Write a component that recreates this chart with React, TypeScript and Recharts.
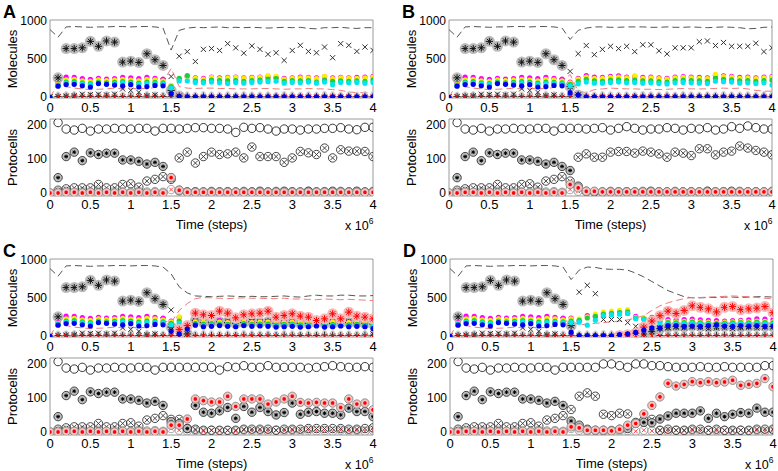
import React from 'react';
import { ComposedChart, Line, Scatter, XAxis, YAxis, ReferenceArea } from 'recharts';

type S = (number | null)[];

// ---- time axis (x 10^6 steps) ----
const TIME = [0, 0.1, 0.2, 0.3, 0.4, 0.5, 0.6, 0.7, 0.8, 0.9, 1, 1.1, 1.2, 1.3, 1.4, 1.5, 1.6, 1.7, 1.8, 1.9, 2, 2.1, 2.2, 2.3, 2.4, 2.5, 2.6, 2.7, 2.8, 2.9, 3, 3.1, 3.2, 3.3, 3.4, 3.5, 3.6, 3.7, 3.8, 3.9, 4];
const X_TICKS = [0, 0.5, 1, 1.5, 2, 2.5, 3, 3.5, 4];
const MOL_TICKS = [0, 500, 1000];
const CELL_TICKS = [0, 100, 200];

// ---- shared early part (t = 0 .. 1.4), molecules ----
const E_DASH: S = [890, 790, 925, 930, 925, 920, 925, 925, 930, 930, 925, 930, 930, 925, 910];
const E_RED: S = [0, 180, 140, 120, 110, 100, 105, 110, 120, 110, 110, 120, 110, 130, 200];
const E_STAR: S = [null, 255, 640, 640, 650, 735, 670, 740, 725, 462, 475, 458, 572, 493, 418];
const E_X: S = [5, 10, 15, 20, 40, 35, 40, 30, 40, 110, 90, 65, 20, 30, 210];
const E_MAG: S = [0, 180, 264, 260, 245, 235, 250, 240, 245, 260, 255, 245, 260, 250, 240];
const E_YEL: S = [0, 170, 230, 235, 215, 210, 230, 220, 225, 235, 225, 215, 235, 230, 215];
const E_GRN: S = [0, 160, 200, 205, 190, 180, 200, 190, 195, 205, 200, 185, 200, 195, 190];
const E_CYN: S = [0, 155, 185, 185, 175, 165, 185, 175, 180, 190, 180, 170, 180, 180, 175];
const E_BLU: S = [0, 145, 167, 170, 150, 135, 180, 170, 160, 150, 165, 135, 140, 155, 150];
const E_RSTAR: S = [null, null, null, null, null, null, null, null, null, null, null, null, null, null, null];
const RX_MOL: S = [0, 5, 3, 6, 4, 5, 3, 6, 4, 5, 3, 6, 4, 5, 3, 6, 4, 5, 3, 6, 4, 5, 3, 6, 4, 5, 3, 6, 4, 5, 3, 6, 4, 5, 3, 6, 4, 5, 3, 6, 4];
const PLUS_MOL: S = [null, 10, 12, 15, 10, 12, 10, 15, 12, 10, 12, 10, 15, 12, 10, 12, 10, 12, 10, 15, 12, 10, 12, 10, 15, 12, 10, 12, 10, 15, 12, 10, 12, 10, 15, 12, 10, 12, 10, 15, 12];

// ---- shared early part, protocells ----
const E_OPEN: S = [null, 207, 188, 185, 190, 182, 188, 188, 190, 188, 188, 190, 190, 182, 190];
const E_SC: S = [null, 45, 107, 120, 95, 118, 113, 117, 117, 97, 97, 93, 85, 90, 78];
const E_XC: S = [null, 8, 12, 15, 15, 15, 25, 15, 15, 25, 27, 17, 35, 40, 48];
const E_RC: S = [0, 0, 2, 2, 0, 2, 0, 2, 0, 2, 0, 2, 0, 2, 0];
const LOW_CELL: S = [0, 3, 5, 2, 4, 3, 5, 2, 4, 3, 2, 5, 3, 4, 2, 10, 5, 3, 4, 2, 5, 3, 4, 2, 5, 3, 4, 2, 5, 3, 4, 2, 5, 3, 4, 2, 5, 3, 4, 2, 5];

// ---- late part (t = 1.5 .. 4.0), panel A ----
const A_DASH_L: S = [620, 880, 910, 920, 915, 920, 925, 915, 920, 915, 920, 915, 910, 915, 920, 915, 920, 905, 900, 915, 915, 920, 910, 905, 915, 915];
const A_RED_L: S = [380, 140, 120, 115, 120, 120, 115, 115, 110, 110, 110, 115, 115, 110, 105, 110, 110, 115, 110, 110, 100, 90, 70, 60, 60, 65];
const A_STAR_L: S = [90, 15, null, null, null, null, null, null, null, null, null, null, null, null, null, null, null, null, null, null, null, null, null, null, null, null];
const A_X_L: S = [273, 540, 600, 470, 630, 640, 615, 705, 650, 580, 675, 630, 565, 585, 485, 615, 683, 603, 585, 660, 520, 705, 683, 603, 660, 617];
const A_MAG_L: S = [150, 240, 270, 255, 250, 265, 255, 260, 265, 255, 260, 265, 270, 265, 250, 255, 265, 260, 255, 270, 255, 260, 255, 260, 265, 275];
const A_YEL_L: S = [155, 230, 260, 250, 240, 260, 245, 255, 260, 250, 255, 260, 285, 275, 240, 250, 255, 255, 245, 275, 245, 255, 250, 250, 255, 265];
const A_GRN_L: S = [140, 250, 285, 215, 210, 225, 220, 215, 220, 210, 220, 225, 240, 245, 210, 220, 215, 220, 200, 225, 210, 215, 210, 215, 210, 230];
const A_CYN_L: S = [120, 215, 215, 195, 190, 200, 190, 180, 195, 185, 195, 200, 205, 210, 185, 195, 190, 200, 185, 200, 165, 195, 190, 195, 185, 195];
const A_BLU_L: S = [45, 10, 5, 5, 5, 5, 5, 5, 5, 5, 5, 5, 5, 5, 5, 5, 5, 5, 5, 5, 5, 5, 5, 5, 5, 5];
const A_RSTAR_L: S = [null, null, null, null, null, null, null, null, null, null, null, null, null, null, null, null, null, null, null, null, null, null, null, null, null, null];
const A_OPEN_L: S = [190, 188, 190, 192, 192, 190, 190, 188, 178, 193, 190, 192, 188, 182, 188, 188, 185, 188, 188, 190, 190, 192, 188, 186, 193, 193];
const A_SC_L: S = [45, 8, 3, 3, 3, 3, 3, 3, 3, 3, 3, 5, 3, 3, 5, 3, 3, 5, 3, 3, 5, 3, 3, 5, 3, 3];
const A_XC_L: S = [40, 103, 120, 88, 107, 120, 113, 115, 120, 103, 135, 107, 107, 107, 90, 103, 122, 118, 113, 132, 103, 127, 123, 123, 122, 107];
const A_RC_L: S = [45, 8, 2, 2, 2, 2, 2, 2, 2, 2, 2, 2, 2, 2, 2, 2, 2, 2, 2, 2, 2, 2, 2, 2, 2, 2];

// ---- panel B ----
const B_DASH_L: S = [760, 880, 910, 925, 925, 920, 920, 925, 925, 925, 920, 920, 925, 920, 920, 925, 920, 915, 920, 925, 920, 915, 900, 905, 920, 925];
const B_RED_L: S = [300, 80, 60, 100, 110, 120, 115, 110, 110, 105, 105, 100, 105, 110, 115, 110, 110, 110, 115, 120, 115, 120, 110, 90, 80, 80];
const B_STAR_L: S = [140, 30, null, null, null, null, null, null, null, null, null, null, null, null, null, null, null, null, null, null, null, null, null, null, null, null];
const B_X_L: S = [340, 573, 680, 560, 630, 670, 640, 670, 600, 690, 690, 610, 570, 650, 650, 650, 730, 740, 680, 720, 670, 670, 670, 710, 600, 650];
const B_MAG_L: S = [200, 250, 285, 265, 260, 275, 280, 265, 270, 260, 265, 255, 250, 265, 270, 265, 260, 255, 290, 280, 275, 260, 265, 255, 265, 270];
const B_YEL_L: S = [190, 240, 265, 250, 250, 260, 265, 255, 280, 250, 255, 245, 240, 255, 260, 255, 250, 245, 300, 270, 265, 250, 255, 245, 255, 260];
const B_GRN_L: S = [170, 210, 235, 215, 210, 225, 230, 220, 225, 215, 215, 205, 200, 220, 225, 220, 215, 210, 250, 235, 230, 215, 220, 210, 220, 225];
const B_CYN_L: S = [150, 176, 200, 185, 185, 195, 200, 190, 195, 185, 190, 180, 175, 190, 195, 190, 185, 180, 210, 205, 200, 185, 190, 180, 190, 160];
const B_BLU_L: S = [60, 30, 5, 5, 5, 5, 5, 5, 5, 5, 5, 5, 5, 5, 5, 5, 5, 5, 5, 5, 5, 5, 5, 5, 5, 5];
const B_RSTAR_L: S = [null, null, null, null, null, null, null, null, null, null, null, null, null, null, null, null, null, null, null, null, null, null, null, null, null, null];
const B_OPEN_L: S = [190, 190, 188, 190, 192, 185, 190, 195, 190, 185, 188, 188, 192, 190, 185, 190, 188, 192, 185, 188, 195, 190, 197, 192, 188, 188];
const B_SC_L: S = [66, 20, 5, 3, 3, 3, 3, 3, 3, 3, 5, 3, 3, 3, 3, 3, 3, 5, 3, 3, 5, 3, 3, 3, 3, 3];
const B_XC_L: S = [35, 105, 115, 105, 105, 120, 122, 122, 117, 123, 120, 115, 105, 120, 117, 110, 130, 130, 112, 120, 123, 138, 132, 125, 120, 112];
const B_RC_L: S = [25, 15, 5, 5, 3, 3, 3, 3, 3, 3, 3, 3, 3, 3, 3, 3, 3, 3, 3, 3, 3, 3, 3, 3, 3, 3];

// ---- panel C ----
const C_DASH_L: S = [820, 650, 570, 530, 525, 520, 525, 530, 525, 520, 525, 520, 520, 525, 530, 520, 515, 530, 540, 530, 530, 540, 540, 530, 530, 535];
const C_RED_L: S = [180, 340, 430, 495, 510, 505, 500, 495, 500, 505, 500, 500, 495, 495, 500, 490, 490, 485, 480, 490, 485, 480, 485, 480, 475, 470];
const C_STAR_L: S = [120, 80, 30, 210, 180, 185, 190, 180, 170, 180, 190, 180, 190, 170, 175, 180, 170, 170, 180, 170, 170, 175, 180, 175, 170, 160];
const C_X_L: S = [345, 115, 30, 225, 190, 200, 195, 200, 205, 215, 200, 190, 185, 200, 190, 205, 180, 200, 195, 185, 190, 200, 195, 190, 185, 30];
const C_MAG_L: S = [200, 250, 160, 200, 195, 200, 205, 190, 195, 200, 185, 190, 195, 180, 190, 195, 185, 190, 200, 185, 190, 195, 185, 190, 185, 180];
const C_YEL_L: S = [190, 255, 150, 190, 185, 190, 185, 180, 185, 190, 180, 185, 185, 175, 180, 185, 180, 185, 190, 180, 185, 190, 180, 185, 180, 175];
const C_GRN_L: S = [170, 200, 130, 165, 160, 165, 160, 155, 160, 165, 155, 160, 160, 150, 155, 160, 150, 155, 165, 150, 155, 160, 150, 155, 150, 145];
const C_CYN_L: S = [150, 170, 115, 150, 140, 145, 145, 140, 140, 150, 140, 145, 140, 135, 140, 145, 135, 140, 145, 135, 140, 145, 135, 140, 135, 130];
const C_BLU_L: S = [65, 30, 95, 145, 125, 130, 140, 130, 125, 140, 130, 135, 130, 120, 125, 130, 120, 125, 135, 120, 125, 135, 125, 130, 125, 100];
const C_RSTAR_L: S = [null, 90, 140, 304, 282, 273, 330, 304, 242, 282, 295, 304, 330, 251, 273, 295, 264, 251, 207, 229, 295, 229, 317, 264, 251, 229];
const C_OPEN_L: S = [190, 190, 190, 190, 190, 190, 182, 192, 190, 195, 190, 190, 195, 190, 190, 190, 190, 188, 190, 192, 195, 192, 190, 190, 192, 190];
const C_SC_L: S = [30, 25, 10, 78, 58, 55, 62, 72, 40, 75, 58, 72, 60, 50, 57, 85, 52, 58, 60, 55, 55, 50, 70, 60, 60, 45];
const C_XC_L: S = [37, 37, 10, 8, 5, 5, 5, 5, 5, 8, 8, 8, 8, 5, 8, 8, 8, 10, 10, 10, 10, 10, 8, 8, 10, 12];
const C_RC_L: S = [20, 20, 38, 97, 92, 88, 88, 105, 75, 97, 97, 97, 82, 88, 97, 105, 87, 85, 87, 85, 85, 72, 97, 82, 85, 65];

// ---- panel D ----
const D_DASH_L: S = [745, 870, 910, 905, 885, 880, 880, 870, 830, 780, 720, 660, 600, 560, 520, 505, 505, 510, 510, 515, 515, 510, 515, 520, 520, 515];
const D_RED_L: S = [200, 150, 160, 170, 180, 190, 200, 215, 240, 270, 340, 400, 440, 470, 495, 510, 510, 515, 520, 525, 530, 525, 520, 510, 500, 490];
const D_STAR_L: S = [140, null, null, null, null, null, null, null, 15, 30, 60, 100, 120, 130, 125, 135, 130, 125, 130, 135, 130, 125, 130, 135, 130, 128];
const D_X_L: S = [140, 580, 670, 560, 220, 220, 220, 180, 130, 100, 100, 110, 110, 120, 110, 120, 110, 100, 110, 110, 100, 110, 120, 110, 120, 120];
const D_MAG_L: S = [240, 200, 270, 260, 300, 310, 320, 300, 260, 240, 250, 230, 220, 215, 220, 225, 215, 210, 205, 200, 205, 210, 215, 230, 225, 220];
const D_YEL_L: S = [230, 230, 255, 290, 320, 330, 340, 350, 250, 245, 230, 210, 195, 190, 195, 200, 190, 185, 180, 185, 190, 195, 190, 200, 195, 190];
const D_GRN_L: S = [200, 210, 240, 260, 290, 300, 310, 320, 240, 230, 210, 195, 180, 175, 180, 185, 175, 170, 165, 170, 175, 180, 175, 185, 180, 175];
const D_CYN_L: S = [180, 185, 145, 210, 270, 280, 290, 300, 230, 220, 200, 180, 160, 160, 165, 170, 160, 155, 150, 155, 160, 165, 160, 165, 160, 155];
const D_BLU_L: S = [53, 10, 10, 10, 10, 5, 20, 30, 50, 80, 110, 110, 140, 140, 130, 135, 130, 140, 150, 135, 130, 140, 135, 140, 130, 135];
const D_RSTAR_L: S = [null, null, null, null, null, null, 10, 20, 40, 120, 200, 270, 330, 300, 340, 400, 380, 360, 320, 380, 390, 350, 360, 370, 390, 310];
const D_OPEN_L: S = [190, 190, 190, 190, 200, 200, 195, 190, 200, 200, 195, 195, 192, 190, 190, 190, 192, 190, 190, 192, 190, 190, 190, 190, 195, 195];
const D_SC_L: S = [32, 20, 8, 5, 5, 3, 8, 10, 28, 28, 27, 38, 47, 55, 55, 55, 62, 40, 55, 45, 52, 57, 55, 70, 58, 58];
const D_XC_L: S = [66, 105, 115, 105, 52, 48, 55, 53, 25, 35, 37, 5, 8, 5, 5, 8, 8, 5, 8, 5, 5, 5, 5, 8, 8, 8];
const D_RC_L: S = [15, 12, 5, 5, 5, 3, 8, 20, 25, 53, 78, 103, 143, 135, 140, 148, 145, 148, 145, 147, 152, 137, 140, 143, 157, 133];

// ---- helpers ----
const join = (a: S, b: S): S => [...a, ...b];
const pts = (vals: S) => TIME.map((t, i) => ({ t, v: vals[i] })).filter((d) => d.v != null);

interface MolSet { dash: S; red: S; star: S; x: S; mag: S; yel: S; grn: S; cyn: S; blu: S; rstar: S; rx: S; plus: S; }
interface CellSet { open: S; sc: S; xc: S; rc: S; low: S; }

const mkMol = (dash: S, red: S, star: S, x: S, mag: S, yel: S, grn: S, cyn: S, blu: S, rstar: S): MolSet => ({
  dash: join(E_DASH, dash), red: join(E_RED, red), star: join(E_STAR, star), x: join(E_X, x),
  mag: join(E_MAG, mag), yel: join(E_YEL, yel), grn: join(E_GRN, grn), cyn: join(E_CYN, cyn),
  blu: join(E_BLU, blu), rstar: join(E_RSTAR, rstar), rx: RX_MOL, plus: PLUS_MOL,
});
const mkCell = (open: S, sc: S, xc: S, rc: S): CellSet => ({
  open: join(E_OPEN, open), sc: join(E_SC, sc), xc: join(E_XC, xc), rc: join(E_RC, rc), low: LOW_CELL,
});

const MOL_A = mkMol(A_DASH_L, A_RED_L, A_STAR_L, A_X_L, A_MAG_L, A_YEL_L, A_GRN_L, A_CYN_L, A_BLU_L, A_RSTAR_L);
const MOL_B = mkMol(B_DASH_L, B_RED_L, B_STAR_L, B_X_L, B_MAG_L, B_YEL_L, B_GRN_L, B_CYN_L, B_BLU_L, B_RSTAR_L);
const MOL_C = mkMol(C_DASH_L, C_RED_L, C_STAR_L, C_X_L, C_MAG_L, C_YEL_L, C_GRN_L, C_CYN_L, C_BLU_L, C_RSTAR_L);
const MOL_D = mkMol(D_DASH_L, D_RED_L, D_STAR_L, D_X_L, D_MAG_L, D_YEL_L, D_GRN_L, D_CYN_L, D_BLU_L, D_RSTAR_L);
const CELL_A = mkCell(A_OPEN_L, A_SC_L, A_XC_L, A_RC_L);
const CELL_B = mkCell(B_OPEN_L, B_SC_L, B_XC_L, B_RC_L);
const CELL_C = mkCell(C_OPEN_L, C_SC_L, C_XC_L, C_RC_L);
const CELL_D = mkCell(D_OPEN_L, D_SC_L, D_XC_L, D_RC_L);

// ---- marker shapes ----
const starPath = (cx: number, cy: number, r: number) => {
  const d = r * 0.72;
  return `M${cx - r} ${cy}H${cx + r}M${cx} ${cy - r}V${cy + r}M${cx - d} ${cy - d}L${cx + d} ${cy + d}M${cx - d} ${cy + d}L${cx + d} ${cy - d}`;
};
const xPath = (cx: number, cy: number, r: number) =>
  `M${cx - r} ${cy - r}L${cx + r} ${cy + r}M${cx - r} ${cy + r}L${cx + r} ${cy - r}`;
const plusPath = (cx: number, cy: number, r: number) => `M${cx - r} ${cy}H${cx + r}M${cx} ${cy - r}V${cy + r}`;

const dotShape = (c: string) => (p: any) => <circle cx={p.cx} cy={p.cy} r={2.6} fill={c} />;
const haloStar = (c: string, halo: string) => (p: any) => (
  <g>
    <circle cx={p.cx} cy={p.cy} r={5.5} fill={halo} />
    <path d={starPath(p.cx, p.cy, 3.6)} stroke={c} strokeWidth={1} fill="none" />
  </g>
);
const haloPlus = (p: any) => (
  <g>
    <ellipse cx={p.cx} cy={p.cy} rx={3} ry={5} fill="#cfcfcf" />
    <path d={plusPath(p.cx, p.cy, 3.5)} stroke="#333" strokeWidth={1} fill="none" />
  </g>
);
const xShape = (c: string, r: number) => (p: any) => (
  <path d={xPath(p.cx, p.cy, r)} stroke={c} strokeWidth={1} fill="none" />
);
const openCircle = (p: any) => <circle cx={p.cx} cy={p.cy} r={4.2} fill="none" stroke="#222" strokeWidth={0.9} />;
const starCircle = (p: any) => (
  <g>
    <circle cx={p.cx} cy={p.cy} r={4.2} fill="#bdbdbd" stroke="#333" strokeWidth={0.9} />
    <path d={starPath(p.cx, p.cy, 1.9)} stroke="#000" strokeWidth={1} fill="none" />
  </g>
);
const xCircle = (p: any) => (
  <g>
    <circle cx={p.cx} cy={p.cy} r={4.2} fill="none" stroke="#333" strokeWidth={0.9} />
    <path d={xPath(p.cx, p.cy, 2.4)} stroke="#333" strokeWidth={0.9} fill="none" />
  </g>
);
const redCircle = (p: any) => (
  <g>
    <circle cx={p.cx} cy={p.cy} r={4.2} fill="#f6c4c4" stroke="#888" strokeWidth={0.9} />
    <path d={starPath(p.cx, p.cy, 1.8)} stroke="#ff0000" strokeWidth={1.1} fill="none" />
  </g>
);
const lowCircle = (p: any) => (
  <g>
    <circle cx={p.cx} cy={p.cy} r={4.2} fill="none" stroke="#999" strokeWidth={0.9} />
    <path d={xPath(p.cx, p.cy, 2)} stroke="#ff3333" strokeWidth={0.9} fill="none" />
  </g>
);
const redXDot = (p: any) => (
  <path key={`rx-${p.index}`} d={xPath(p.cx, p.cy, 2.4)} stroke="#ff0000" strokeWidth={1} fill="none" />
);

const FONT = 'Arial, "Liberation Sans", Helvetica, sans-serif';
const PLOT_BORDER = '#9a9a9a';

function MolChart({ d }: { d: MolSet }) {
  const y0 = -10;
  const y1 = 1016;
  return (
    <ComposedChart width={390} height={115} margin={{ top: 20, right: 17, bottom: 0, left: 4 }}>
      <XAxis dataKey="t" type="number" domain={[0, 4]} ticks={X_TICKS} interval={0} allowDataOverflow
        axisLine={false} tickLine={false} tickSize={0} tickMargin={5} height={17}
        tick={{ fontSize: 13, fill: '#000' }} />
      <YAxis type="number" domain={[y0, y1]} ticks={MOL_TICKS} interval={0} allowDataOverflow
        axisLine={false} tickLine={false} tickSize={0} tickMargin={3} width={46}
        tick={{ fontSize: 12, fill: '#000' }}
        label={{ value: 'Molecules', angle: -90, position: 'insideLeft', offset: 8, fontSize: 13, fill: '#000', style: { textAnchor: 'middle' } }} />
      <ReferenceArea x1={0} x2={4} y1={y0} y2={y1} fill="none" stroke={PLOT_BORDER} strokeWidth={1} ifOverflow="visible" />
      <Line data={pts(d.dash)} dataKey="v" stroke="#555" strokeWidth={1} strokeDasharray="7 4" dot={false} isAnimationActive={false} />
      <Line data={pts(d.red)} dataKey="v" stroke="#f07a7a" strokeWidth={1} strokeDasharray="7 4" dot={false} isAnimationActive={false} />
      <Scatter data={pts(d.plus)} dataKey="v" shape={haloPlus} isAnimationActive={false} />
      <Scatter data={pts(d.star)} dataKey="v" shape={haloStar('#111', '#bcbcbc')} isAnimationActive={false} />
      <Scatter data={pts(d.x)} dataKey="v" shape={xShape('#333', 2.6)} isAnimationActive={false} />
      <Scatter data={pts(d.mag)} dataKey="v" shape={dotShape('#ff00ff')} isAnimationActive={false} />
      <Scatter data={pts(d.yel)} dataKey="v" shape={dotShape('#ffee00')} isAnimationActive={false} />
      <Scatter data={pts(d.grn)} dataKey="v" shape={dotShape('#22cc33')} isAnimationActive={false} />
      <Scatter data={pts(d.cyn)} dataKey="v" shape={dotShape('#00e6f0')} isAnimationActive={false} />
      <Scatter data={pts(d.rstar)} dataKey="v" shape={haloStar('#ff0000', '#f7b8b8')} isAnimationActive={false} />
      <Line data={pts(d.rx)} dataKey="v" stroke="#ff5555" strokeWidth={1} dot={redXDot} isAnimationActive={false} />
      <Scatter data={pts(d.blu)} dataKey="v" shape={dotShape('#0000ee')} isAnimationActive={false} />
    </ComposedChart>
  );
}

function CellChart({ d }: { d: CellSet }) {
  const y0 = -9;
  const y1 = 217.5;
  return (
    <ComposedChart width={390} height={137} margin={{ top: 20, right: 17, bottom: 0, left: 4 }}>
      <XAxis dataKey="t" type="number" domain={[0, 4]} ticks={X_TICKS} interval={0} allowDataOverflow
        axisLine={false} tickLine={false} tickSize={0} tickMargin={4} height={40}
        tick={{ fontSize: 13, fill: '#000' }}
        label={{ value: 'Time (steps)', position: 'insideTop', offset: 24, fontSize: 13, fill: '#000' }} />
      <YAxis type="number" domain={[y0, y1]} ticks={CELL_TICKS} interval={0} allowDataOverflow
        axisLine={false} tickLine={false} tickSize={0} tickMargin={3} width={46}
        tick={{ fontSize: 12, fill: '#000' }}
        label={{ value: 'Protocells', angle: -90, position: 'insideLeft', offset: 8, fontSize: 13, fill: '#000', style: { textAnchor: 'middle' } }} />
      <ReferenceArea x1={0} x2={4} y1={y0} y2={y1} fill="none" stroke={PLOT_BORDER} strokeWidth={1} ifOverflow="visible" />
      <Scatter data={pts(d.low)} dataKey="v" shape={lowCircle} isAnimationActive={false} />
      <Scatter data={pts(d.open)} dataKey="v" shape={openCircle} isAnimationActive={false} />
      <Scatter data={pts(d.xc)} dataKey="v" shape={xCircle} isAnimationActive={false} />
      <Scatter data={pts(d.sc)} dataKey="v" shape={starCircle} isAnimationActive={false} />
      <Scatter data={pts(d.rc)} dataKey="v" shape={redCircle} isAnimationActive={false} />
    </ComposedChart>
  );
}

function Panel({ left, top, letter, mol, cell }: { left: number; top: number; letter: string; mol: MolSet; cell: CellSet }) {
  return (
    <div style={{ position: 'absolute', left, top, width: 390, height: 238 }}>
      <div style={{ position: 'absolute', left: 0, top: 0 }}>
        <MolChart d={mol} />
      </div>
      <div style={{ position: 'absolute', left: 0, top: 99 }}>
        <CellChart d={cell} />
      </div>
      <div style={{ position: 'absolute', left: 3, top: 3, fontSize: 18, fontWeight: 'bold', lineHeight: 1 }}>{letter}</div>
      <div style={{ position: 'absolute', left: 345, top: 220, fontSize: 12.5, lineHeight: 1, whiteSpace: 'nowrap' }}>
        x 10<span style={{ fontSize: 8.5, position: 'relative', top: -6 }}>6</span>
      </div>
    </div>
  );
}

export default function App() {
  return (
    <div style={{ position: 'absolute', left: 0, top: 0, width: 778, height: 471, background: '#fff', fontFamily: FONT, color: '#000', overflow: 'hidden' }}>
      <Panel left={0} top={0} letter="A" mol={MOL_A} cell={CELL_A} />
      <Panel left={399} top={0} letter="B" mol={MOL_B} cell={CELL_B} />
      <Panel left={0} top={239} letter="C" mol={MOL_C} cell={CELL_C} />
      <Panel left={400} top={239} letter="D" mol={MOL_D} cell={CELL_D} />
    </div>
  );
}
